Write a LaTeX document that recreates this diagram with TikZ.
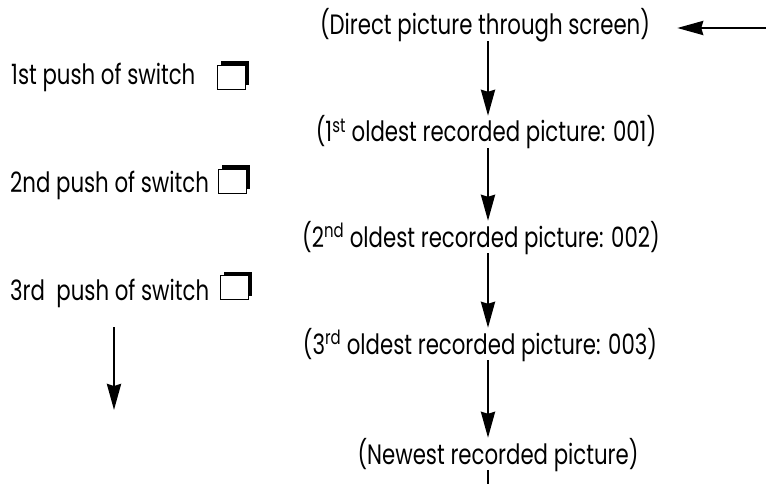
\documentclass[tikz,border=0pt]{standalone}
\usepackage{fontspec}
\setmainfont[FakeStretch=0.76]{Poppins}
\usetikzlibrary{arrows.meta, shadows}

\begin{document}
\begin{tikzpicture}[x=1pt, y=-1pt,
  font=\fontsize{28}{33}\selectfont,
  shot/.style={inner sep=0pt, text height=26pt, text depth=6pt, anchor=base},
  push/.style={inner sep=0pt, anchor=base west},
  switchbox/.style={draw, line width=0.8pt, fill=white, minimum width=28pt, minimum height=24pt, inner sep=0pt,
    general shadow={fill=black, shadow xshift=4pt, shadow yshift=3.5pt}},
  flow/.style={line width=2.7pt, -{Stealth[length=26pt, width=14pt, inset=2pt]}}]
\useasboundingbox (0,0) rectangle (766,484);
\coordinate (spine) at (488,0);
\coordinate (floor) at (0,484);
\coordinate (entry) at (766,28);
\coordinate (go) at (114,327);
\coordinate (stop) at (114,410);

\node[shot] (direct) at (485,35) {(Direct picture through screen)};
\node[shot] (first) at (486,142) {(1\textsuperscript{st} oldest recorded picture: 001)};
\node[shot] (second) at (481,247) {(2\textsuperscript{nd} oldest recorded picture: 002)};
\node[shot] (third) at (480,354) {(3\textsuperscript{rd} oldest recorded picture: 003)};
\node[shot] (newest) at (498,464) {(Newest recorded picture)};

\node[push] (push1) at (11,85) {1st push of switch};
\node[push] (push2) at (10,193) {2nd push of switch};
\node[push] (push3) at (10,300) {3rd\ \ push of switch};
\node[switchbox] (key1) at (231,77) {};
\node[switchbox] (key2) at (232,181) {};
\node[switchbox] (key3) at (234,287) {};

\draw[flow, shorten >=27pt] (entry) -- (direct.east |- entry);
\draw[flow] (direct.south -| spine) -- (first.north -| spine);
\draw[flow] (first.south -| spine) -- (second.north -| spine);
\draw[flow] (second.south -| spine) -- (third.north -| spine);
\draw[flow] (third.south -| spine) -- (newest.north -| spine);
\draw[line width=2.7pt] (newest.south -| spine) -- (spine |- floor);
\draw[flow] (go) -- (stop);
\end{tikzpicture}
\end{document}
